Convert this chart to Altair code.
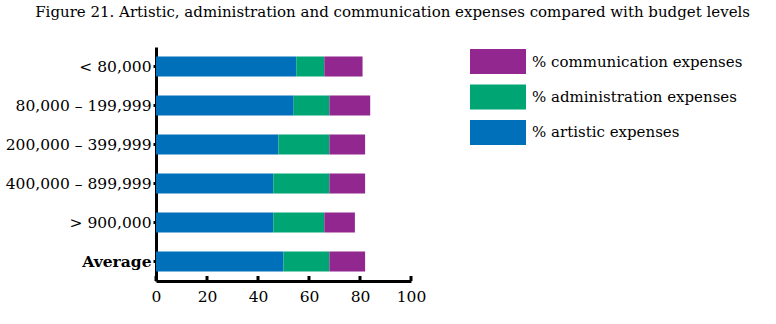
import altair as alt
import pandas as pd

categories = ["< 80,000", "80,000 – 199,999", "200,000 – 399,999",
              "400,000 – 899,999", "> 900,000", "Average"]
artistic = [55, 54, 48, 46, 46, 50]
administration = [11, 14, 20, 22, 20, 18]
communication = [15, 16, 14, 14, 12, 14]

series_names = ["% artistic expenses", "% administration expenses", "% communication expenses"]
series_colors = ["#0070BA", "#00A574", "#92278F"]
x_ticks = [0, 20, 40, 60, 80, 100]

FONT = "DejaVu Serif"

rows = []
for i, c in enumerate(categories):
    for k, (name, vals) in enumerate(zip(series_names, [artistic, administration, communication])):
        rows.append({"category": c, "series": name, "value": vals[i], "order": k})
df = pd.DataFrame(rows)

W, H = 255, 234

color_scale = alt.Scale(domain=series_names, range=series_colors)

bars = alt.Chart(df).mark_bar(size=20).encode(
    x=alt.X("value:Q", stack="zero",
            scale=alt.Scale(domain=[0, 100], nice=False),
            axis=alt.Axis(values=x_ticks, title=None, ticks=False, grid=False,
                          labelFlush=False,
                          domainColor="black", domainWidth=3, labelPadding=8,
                          labelFont=FONT, labelFontSize=15.5, labelColor="black")),
    y=alt.Y("category:N", sort=categories,
            scale=alt.Scale(paddingInner=0.487, paddingOuter=0.2435),
            axis=alt.Axis(title=None, domainColor="black", domainWidth=3,
                          tickColor="black", tickSize=3, tickWidth=3, labelPadding=2,
                          labelFont=FONT, labelFontSize=15.5, labelColor="black",
                          labelFontWeight=alt.expr("datum.value == 'Average' ? 'bold' : 'normal'"))),
    color=alt.Color("series:N", scale=color_scale, legend=None),
    order=alt.Order("order:Q"),
)

tick_df = pd.DataFrame({"t": x_ticks})
ticks = alt.Chart(tick_df).mark_rule(color="black", strokeWidth=3).encode(
    x=alt.X("t:Q"),
    y=alt.value(H),
    y2=alt.value(H - 5),
)

main = alt.layer(bars, ticks).properties(width=W, height=H)

leg_order = ["% communication expenses", "% administration expenses", "% artistic expenses"]
leg_df = pd.DataFrame({"series": leg_order})
leg_y = alt.Y("series:N", sort=leg_order, axis=None,
              scale=alt.Scale(paddingInner=0.2958, paddingOuter=0.06))
leg_rect = alt.Chart(leg_df).mark_rect().encode(
    y=leg_y,
    x=alt.value(0), x2=alt.value(56),
    color=alt.Color("series:N", scale=color_scale, legend=None),
)
leg_text = alt.Chart(leg_df).mark_text(align="left", baseline="middle", font=FONT,
                                      fontSize=15, color="black").encode(
    y=leg_y,
    x=alt.value(62),
    text="series:N",
)
legend = alt.layer(leg_rect, leg_text).properties(width=280, height=100)

chart = alt.hconcat(main, legend, spacing=44).properties(
    title=alt.TitleParams(
        "Figure 21. Artistic, administration and communication expenses compared with budget levels",
        font=FONT, fontSize=15, fontWeight="normal", color="black",
        anchor="middle", offset=27, dx=15),
    padding={"left": 5, "top": 5, "right": 0, "bottom": 0},
).configure_view(stroke=None).configure_axis(grid=False)

chart.save("out.html", embed_options={"renderer": "svg", "actions": False})
